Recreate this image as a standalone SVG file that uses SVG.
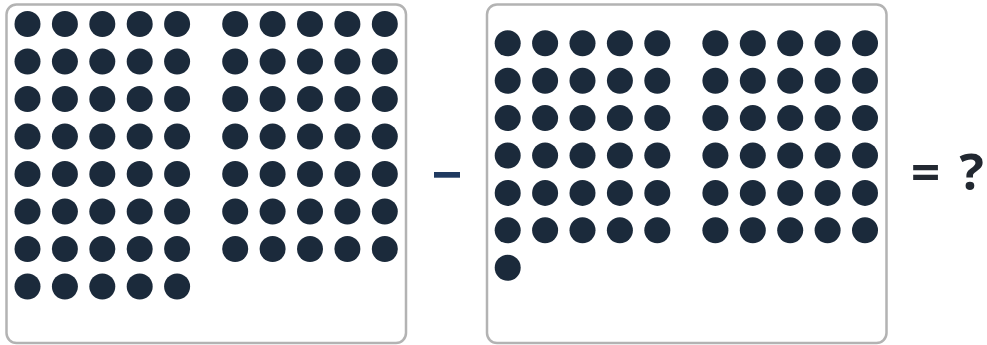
<svg xmlns="http://www.w3.org/2000/svg" xmlns:xlink="http://www.w3.org/1999/xlink" width="987" height="345" viewBox="0 0 987 345">
<style>
.box{fill:#ffffff;stroke:#b3b3b3;stroke-width:2.5}
.d{fill:#1b2a3b}
.op{font-family:"Open Sans","DejaVu Sans",sans-serif;font-weight:bold;font-size:51px;fill:#222831}
</style>
<defs>
<circle id="c" r="13" class="d"/>
<g id="row">
<use xlink:href="#c" x="0"/><use xlink:href="#c" x="37.4"/><use xlink:href="#c" x="74.8"/><use xlink:href="#c" x="112.2"/><use xlink:href="#c" x="149.6"/>
</g>
</defs>
<rect width="987" height="345" fill="#ffffff"/>
<g id="left-box">
<rect class="box" x="6.5" y="4.5" width="399.5" height="338.5" rx="10"/>
<g transform="translate(27.5,24)">
<use xlink:href="#row" y="0"/><use xlink:href="#row" y="37.5"/><use xlink:href="#row" y="75"/><use xlink:href="#row" y="112.5"/><use xlink:href="#row" y="150"/><use xlink:href="#row" y="187.5"/><use xlink:href="#row" y="225"/><use xlink:href="#row" y="262.5"/>
</g>
<g transform="translate(235.2,24)">
<use xlink:href="#row" y="0"/><use xlink:href="#row" y="37.5"/><use xlink:href="#row" y="75"/><use xlink:href="#row" y="112.5"/><use xlink:href="#row" y="150"/><use xlink:href="#row" y="187.5"/><use xlink:href="#row" y="225"/>
</g>
</g>
<g id="minus">
<rect x="434" y="172" width="26" height="5.7" fill="#1f3a60"/>
</g>
<g id="right-box">
<rect class="box" x="487" y="4.5" width="399.5" height="338.5" rx="10"/>
<g transform="translate(507.7,43.3)">
<use xlink:href="#row" y="0"/><use xlink:href="#row" y="37.4"/><use xlink:href="#row" y="74.8"/><use xlink:href="#row" y="112.2"/><use xlink:href="#row" y="149.6"/><use xlink:href="#row" y="187"/>
<use xlink:href="#c" x="0" y="224.4"/>
</g>
<g transform="translate(715.4,43.3)">
<use xlink:href="#row" y="0"/><use xlink:href="#row" y="37.4"/><use xlink:href="#row" y="74.8"/><use xlink:href="#row" y="112.2"/><use xlink:href="#row" y="149.6"/><use xlink:href="#row" y="187"/>
</g>
</g>
<g id="equals">
<text class="op" y="190"><tspan x="911">=</tspan><tspan x="959.5">?</tspan></text>
</g>
</svg>
